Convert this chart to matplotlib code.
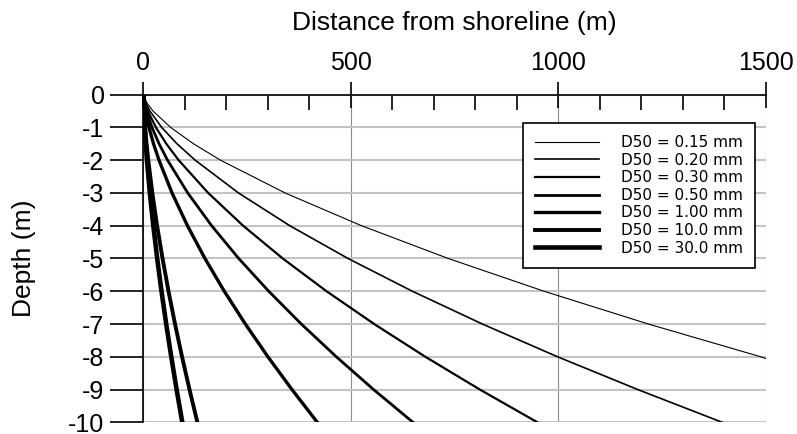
import matplotlib.pyplot as plt
from matplotlib.ticker import MultipleLocator

plt.rcParams['font.family'] = ['Liberation Sans', 'DejaVu Sans']
plt.rcParams['axes.unicode_minus'] = False

depths = [0, -0.25, -0.5, -1, -1.5, -2, -3, -4, -5, -6, -7, -8, -9, -10]

# distance from shoreline (m) for each grain size, read at the depths above
x_015 = [0, 8.2, 23.2, 65.7, 120.8, 185.9, 341.5, 525.8, 734.8, 965.8, 1217, 1488]
x_020 = [0, 5.5, 15.6, 44.1, 81.0, 124.8, 229.2, 352.9, 493.2, 648.3, 816.9, 998.2, 1191.5, 1395]
x_030 = [0, 3.75, 10.6, 30.0, 55.2, 84.9, 156.1, 240.3, 335.8, 441.4, 556.2, 679.5, 810.9, 949.7]
x_050 = [0, 2.57, 7.26, 20.55, 37.7, 58.1, 106.8, 164.4, 229.7, 302.0, 380.5, 464.9, 554.7, 649.7]
x_100 = [0, 1.66, 4.69, 13.26, 24.36, 37.5, 68.9, 106.1, 148.2, 194.9, 245.6, 300.0, 358.0, 419.1]
x_10mm = [0, 0.51, 1.45, 4.11, 7.55, 11.6, 21.4, 32.9, 46.0, 60.4, 76.1, 93.0, 111.0, 130.0]
x_30mm = [0, 0.37, 1.05, 2.96, 5.44, 8.37, 15.4, 23.7, 33.1, 43.5, 54.8, 67.0, 79.9, 93.6]

# the 0.15 mm curve leaves the plot at the right edge
edge_x = 1500
edge_depth = -8.05

labels = ['D50 = 0.15 mm', 'D50 = 0.20 mm', 'D50 = 0.30 mm', 'D50 = 0.50 mm',
          'D50 = 1.00 mm', 'D50 = 10.0 mm', 'D50 = 30.0 mm']
widths = [0.8, 1.2, 1.6, 2.0, 2.4, 2.8, 3.3]

fig = plt.figure(figsize=(7.97, 4.34), dpi=100)
ax = fig.add_axes([0.18, 0.027, 0.7807, 0.7548])

curves = [
    (x_015 + [edge_x], depths[:len(x_015)] + [edge_depth]),
    (x_020, depths),
    (x_030, depths),
    (x_050, depths),
    (x_100, depths),
    (x_10mm, depths),
    (x_30mm, depths),
]
for (xs, ys), lab, lw in zip(curves, labels, widths):
    ax.plot(xs, ys, color='k', lw=lw, label=lab, zorder=3)

ax.set_xlim(0, 1500)
ax.set_ylim(-10, 0)

ax.xaxis.tick_top()
ax.xaxis.set_label_position('top')
ax.xaxis.set_major_locator(MultipleLocator(500))
ax.xaxis.set_minor_locator(MultipleLocator(100))
ax.yaxis.set_major_locator(MultipleLocator(1))

ax.tick_params(axis='x', which='major', direction='inout', length=19, width=1.2,
               pad=5, labelsize=18)
ax.tick_params(axis='x', which='minor', direction='in', length=11, width=1.2)
ax.tick_params(axis='y', which='major', direction='out', length=24, width=1.2,
               pad=4, labelsize=18)

for side in ['bottom', 'right']:
    ax.spines[side].set_visible(False)
for side in ['top', 'left']:
    ax.spines[side].set_linewidth(1.2)

ax.grid(axis='y', color='#c4c4c4', lw=1.5, zorder=1)
ax.grid(axis='x', which='major', color='#8a8a8a', lw=0.8, zorder=1)

ax.set_xlabel('Distance from shoreline (m)', fontsize=19, labelpad=15)
ax.set_ylabel('Depth (m)', fontsize=19, labelpad=23)

leg = ax.legend(loc='upper right', bbox_to_anchor=(0.983, 0.914), borderaxespad=0,
                prop={'family': 'DejaVu Sans', 'size': 11},
                handlelength=4.2, handletextpad=1.4, labelspacing=0.17,
                fancybox=False, framealpha=1, edgecolor='k', borderpad=0.8)
leg.get_frame().set_linewidth(1.2)

fig.savefig('out.png', dpi=100)
